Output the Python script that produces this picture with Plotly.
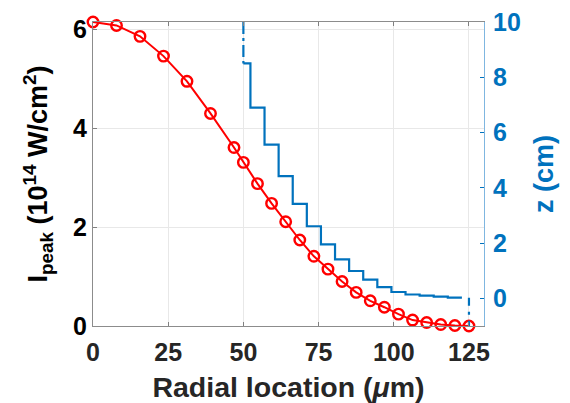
import plotly.graph_objects as go

# Radial sample locations (um)
r = [0, 7.8125, 15.625, 23.4375, 31.25, 39.0625, 46.875, 50,
     54.6875, 59.375, 64.0625, 68.75, 73.4375, 78.125, 82.8125, 87.5,
     92.1875, 96.875, 101.5625, 106.25, 110.9375, 115.625, 120.3125, 125]
# Peak intensity (1e14 W/cm^2)
i_peak = [6.15, 6.08, 5.86, 5.46, 4.95, 4.30, 3.61, 3.31,
          2.88, 2.48, 2.11, 1.74, 1.41, 1.15, 0.90, 0.68,
          0.51, 0.38, 0.24, 0.12, 0.07, 0.03, 0.01, 0.0]
# z position (cm) for r >= 50 um (staircase)
r_z = r[7:23]
z_cm = [8.5, 6.9, 5.56, 4.42, 3.42, 2.61, 1.95, 1.41,
        0.99, 0.68, 0.41, 0.23, 0.14, 0.10, 0.06, 0.025]
z_top = 10
z_bottom = -1
r_end = r[-1]

x_ticks = [0, 25, 50, 75, 100, 125]
y_ticks = [0, 2, 4, 6]
z_ticks = [0, 2, 4, 6, 8, 10]

BLUE = "#0072BD"
RED = "#FF0000"
FONT = "Liberation Sans"

# step edges at midpoints between samples
edges = [r_z[0]] + [(a + b) / 2 for a, b in zip(r_z[:-1], r_z[1:])]
half = (r_z[-1] - r_z[-2]) / 2
edges = edges + [r_z[-1] + half]
z_vals = z_cm + [z_cm[-1]]

fig = go.Figure()

fig.add_trace(go.Scatter(
    x=r, y=i_peak, mode="lines+markers", yaxis="y",
    line=dict(color=RED, width=2),
    marker=dict(symbol="circle-open", size=10.5, color=RED, line=dict(width=2.4, color=RED)),
    cliponaxis=False, showlegend=False))

fig.add_trace(go.Scatter(
    x=edges, y=z_vals, mode="lines", yaxis="y2", line_shape="hv",
    line=dict(color=BLUE, width=2.2), showlegend=False))

fig.add_trace(go.Scatter(
    x=[r_z[0], r_z[0]], y=[z_top, z_cm[0]], mode="lines", yaxis="y2",
    line=dict(color=BLUE, width=2.2, dash="12px,4px,3px,4px"), showlegend=False))

fig.add_trace(go.Scatter(
    x=[r_end, r_end], y=[z_cm[-1], z_bottom], mode="lines", yaxis="y2",
    line=dict(color=BLUE, width=2.2, dash="8px,6px,3px,6px"), showlegend=False))

tickfont = dict(family=FONT, size=25, color="#262626", weight="bold")

fig.update_layout(
    width=570, height=403,
    margin=dict(l=93, r=86, t=22, b=77, autoexpand=False),
    paper_bgcolor="white", plot_bgcolor="white",
    xaxis=dict(
        range=[0, 130], tickvals=x_ticks, ticks="inside", ticklen=4,
        tickcolor="#808080", showline=True, linecolor="#8c8c8c", linewidth=1,
        mirror="ticks", showgrid=True, gridcolor="#e8e8e8", zeroline=False,
        tickfont=tickfont, ticklabelstandoff=4,
        title=dict(text="Radial location (<i>μ</i>m)",
                   font=dict(family=FONT, size=28.5, color="#262626", weight="bold"),
                   standoff=13),
    ),
    yaxis=dict(
        range=[0, 6.15], tickvals=y_ticks, ticks="inside", ticklen=4,
        tickcolor="#808080", showline=True, linecolor="#8c8c8c", linewidth=1,
        showgrid=True, gridcolor="#e8e8e8", zeroline=False,
        tickfont=dict(family=FONT, size=25, color="black", weight="bold"),
        ticklabelstandoff=0,
        title=dict(text="I<sub>peak</sub> (10<sup>14</sup> W/cm<sup>2</sup>)",
                   font=dict(family=FONT, size=27, color="black", weight="bold"),
                   standoff=17),
    ),
    yaxis2=dict(
        overlaying="y", side="right", range=[-1, 10], tickvals=z_ticks,
        ticks="inside", ticklen=4, tickcolor=BLUE, showline=True,
        linecolor="#7fb6e0", linewidth=1, showgrid=False, zeroline=False,
        tickfont=dict(family=FONT, size=25, color=BLUE, weight="bold"),
        ticklabelstandoff=3,
        title=dict(text="z (cm)",
                   font=dict(family=FONT, size=27, color=BLUE, weight="bold"),
                   standoff=14),
    ),
)

fig.write_html("out.html", config={"displayModeBar": False},
               post_script="document.body.style.margin='0';")
